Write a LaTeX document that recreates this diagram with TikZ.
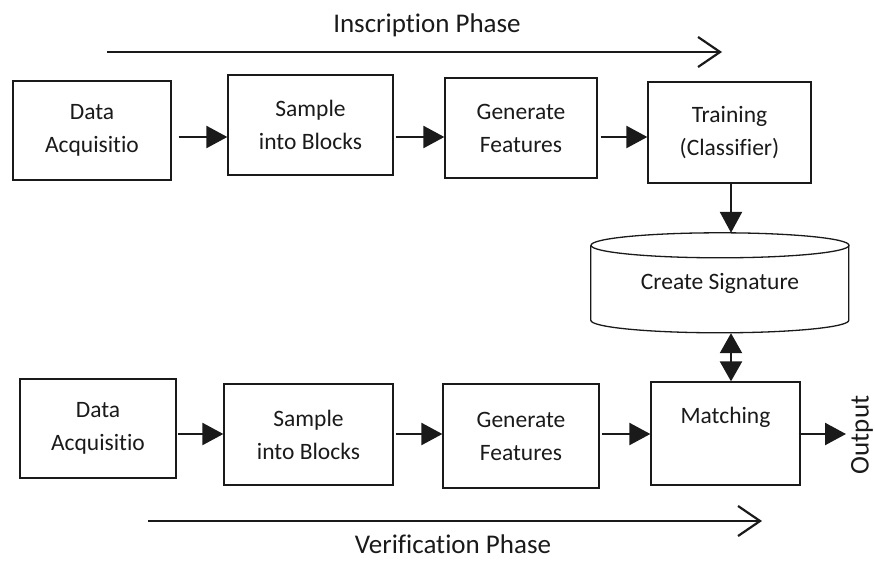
\documentclass[tikz,border=0pt]{standalone}
\usepackage{fontspec}
\setmainfont{Carlito}[Ligatures={NoCommon,NoRare,NoContextual}]
\usetikzlibrary{arrows.meta}
\definecolor{ink}{HTML}{1A1A1A}
\tikzset{
  stage/.style={draw=ink, line width=1.3pt, minimum width=#1, inner sep=0pt,
    align=center, text=ink, font=\fontsize{23.5}{33}\selectfont},
  flow/.style={draw=ink, line width=2.4pt, -{Triangle[length=21pt,width=22pt]}},
  biflow/.style={draw=ink, line width=2.4pt,
    {Triangle[length=20pt,width=22pt]}-{Triangle[length=20pt,width=22pt]}},
  phase/.style={draw=ink, line width=2.2pt,
    -{Straight Barb[length=22pt,width=30pt,line width=2.2pt]}},
  phasetext/.style={text=ink, inner sep=0pt, font=\fontsize{27}{32}\selectfont},
}
\begin{document}
\begin{tikzpicture}[x=1pt,y=-1pt]
\useasboundingbox (0,0) rectangle (875,562);

% enrolment row
\node[stage=158pt, minimum height=99pt]  (d1) at (92,130.5)   {Data\\Acquisitio};
\node[stage=165pt, minimum height=100pt] (s1) at (310.5,125)  {Sample\\into Blocks};
\node[stage=152pt, minimum height=100pt] (g1) at (521,128)    {Generate\\Features};
\node[stage=163pt, minimum height=101pt] (t1) at (729.5,132.5){Training\\(Classifier)};

% verification row
\node[stage=156pt, minimum height=99pt]  (d2) at (98,428.5)   {Data\\Acquisitio};
\node[stage=169pt, minimum height=101pt] (s2) at (308.5,434.5){Sample\\into Blocks};
\node[stage=156pt, minimum height=104pt] (g2) at (521,436)    {Generate\\Features};
\node[stage=149pt, minimum height=103pt] (m)  at (725.5,433.5){};
\node[text=ink, inner sep=0pt, anchor=base, font=\fontsize{23.5}{33}\selectfont]
  (mt) at (725.5,423) {Matching};

% signature store (cylinder)
\node[minimum width=258pt, minimum height=100pt, inner sep=0pt] (cyl) at (720,283) {};
\draw[ink, line width=1.3pt, fill=white]
  (cyl.north west) ++(0,12.5) -- ++(0,75)
  arc[start angle=180, end angle=360, x radius=129pt, y radius=12.5pt]
  -- ++(0,-75);
\draw[ink, line width=1.3pt] ([yshift=-12.5pt]cyl.north)
  ellipse[x radius=129pt, y radius=12.5pt];
\node[text=ink, inner sep=0pt, font=\fontsize{23.5}{33}\selectfont] (ct) at (720,283) {Create Signature};

% arrow rows and column
\coordinate (rowA) at (0,137);
\coordinate (rowB) at (0,434);
\coordinate (colX) at (731,0);

\draw[flow, shorten <=7pt] (d1.east |- rowA) -- (s1.west |- rowA);
\draw[flow, shorten <=2pt] (s1.east |- rowA) -- (g1.west |- rowA);
\draw[flow, shorten <=3pt] (g1.east |- rowA) -- (t1.west |- rowA);
\draw[flow] (t1.south -| colX) -- (cyl.north -| colX);
\draw[biflow] (cyl.south -| colX) -- (m.north -| colX);

\draw[flow, shorten <=1pt] (d2.east |- rowB) -- (s2.west |- rowB);
\draw[flow, shorten <=2pt] (s2.east |- rowB) -- (g2.west |- rowB);
\draw[flow, shorten <=2pt] (g2.east |- rowB) -- (m.west |- rowB);
\coordinate (outEnd) at (846,434);
\draw[flow, shorten <=-2pt] (m.east |- rowB) -- (outEnd);
\node[phasetext, rotate=90] (out) at (862,435) {Output};

% phase arrows
\coordinate (inA) at (107,52);
\coordinate (inB) at (722,52);
\draw[phase] (inA) -- (inB);
\node[phasetext, anchor=base] (inscr) at (427,32) {Inscription Phase};

\coordinate (veA) at (148,521);
\coordinate (veB) at (762,521);
\draw[phase] (veA) -- (veB);
\node[phasetext, anchor=base] (verif) at (453,553) {Verification Phase};
\end{tikzpicture}
\end{document}
